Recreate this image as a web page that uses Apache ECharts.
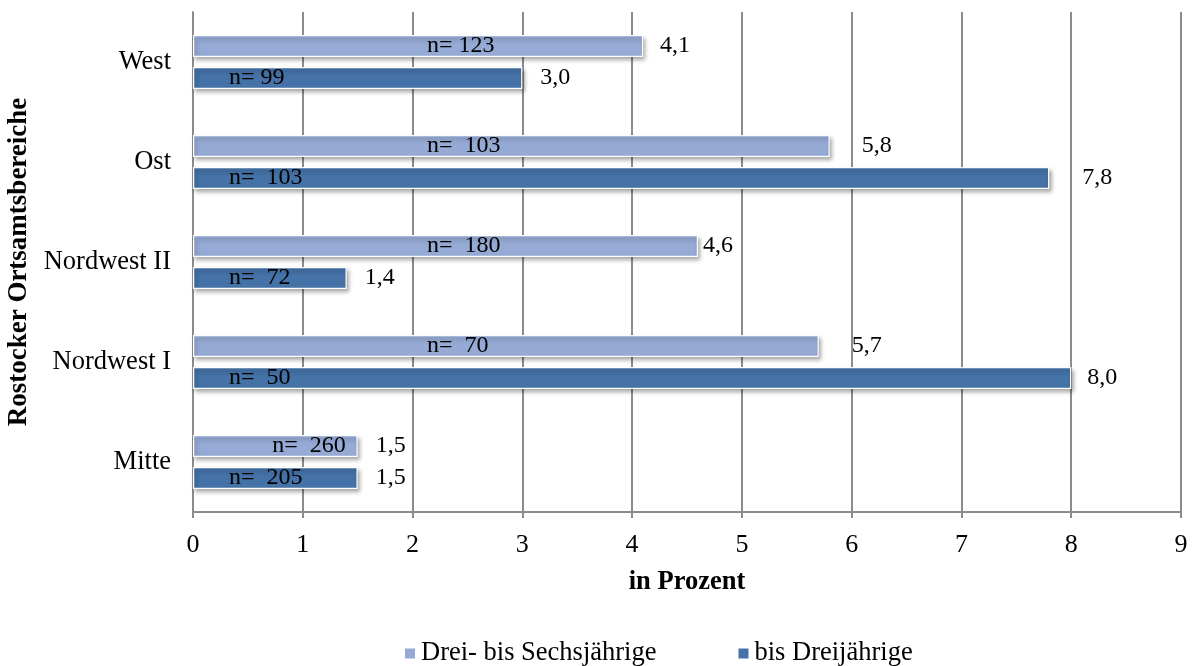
<!DOCTYPE html>
<html>
<head>
<meta charset="utf-8">
<script src="https://cdn.jsdelivr.net/npm/echarts@6/dist/echarts.min.js"></script>
<style>html,body{margin:0;padding:0;background:#fff;}#c{width:1200px;height:666px;}</style>
</head>
<body>
<div id="c"></div>
<script>
// ---- data ----
const categories = ['Mitte', 'Nordwest I', 'Nordwest II', 'Ost', 'West'];
const seriesNames = ['Drei- bis Sechsjährige', 'bis Dreijährige'];
const valuesDreiBisSechs = [1.5, 5.7, 4.6, 5.8, 4.1];
const valuesBisDrei = [1.5, 8.0, 1.4, 7.8, 3.0];
const nDreiBisSechs = ['n=  260', 'n=  70', 'n=  180', 'n=  103', 'n= 123'];
const nBisDrei = ['n=  205', 'n=  50', 'n=  72', 'n=  103', 'n= 99'];
const xTicks = [0, 1, 2, 3, 4, 5, 6, 7, 8, 9];

// ---- styles ----
const FONT = '"Liberation Serif", "Times New Roman", serif';
const LIGHT = '#95AAD4';
const DARK = '#4572A7';
const GRIDC = '#8c8c8c';
const gapLight = [18, 33, 5, 32, 17];
const gapDark = [18, 16, 18, 33, 18];

const chart = echarts.init(document.getElementById('c'), null, {renderer: 'canvas'});

function fmt(v) { return v.toFixed(1).replace('.', ','); }

const barItemStyle = (c) => ({
  color: c, borderColor: '#ffffff', borderWidth: 1.2,
  shadowColor: 'rgba(0,0,0,0.35)', shadowBlur: 4, shadowOffsetX: 2, shadowOffsetY: 3
});

const lightData = valuesDreiBisSechs.map((v, i) => {
  const item = {value: v};
  if (i === 0) item.label = {position: 'insideRight', offset: [-7, 0]};
  return item;
});
const darkData = valuesBisDrei.map(v => ({value: v}));

function valueLabels(vals, gaps, dy) {
  return {
    type: 'custom', silent: true, z: 5, clip: false,
    encode: {x: 0, y: 1},
    data: vals.map((v, i) => [v, i]),
    renderItem: function (params, api) {
      const c = api.coord([api.value(0), api.value(1)]);
      const i = params.dataIndex;
      return {
        type: 'text',
        x: c[0] + gaps[i],
        y: c[1] + dy,
        style: {
          text: fmt(vals[i]),
          fill: '#000',
          font: '24px ' + FONT,
          align: 'left',
          verticalAlign: 'middle'
        }
      };
    },
    tooltip: {show: false}
  };
}

const option = {
  animation: false,
  backgroundColor: '#ffffff',
  textStyle: {fontFamily: FONT},
  grid: {left: 193, right: 19, top: 12, bottom: 154, containLabel: false, outerBoundsMode: 'none'},
  legend: {
    data: seriesNames,
    top: 635, left: 398,
    itemWidth: 12, itemHeight: 12, itemGap: 80,
    icon: 'rect',
    textStyle: {fontFamily: FONT, fontSize: 26.5, color: '#000'}
  },
  xAxis: {
    type: 'value', min: 0, max: 9, interval: 1,
    name: 'in Prozent', nameLocation: 'middle', nameGap: 57,
    nameTextStyle: {fontFamily: FONT, fontSize: 26.5, fontWeight: 'bold', color: '#000'},
    axisLine: {show: true, lineStyle: {color: GRIDC, width: 2}},
    axisTick: {show: true, length: 6, lineStyle: {color: GRIDC, width: 2}},
    axisLabel: {fontFamily: FONT, fontSize: 26, color: '#000', margin: 20,
      formatter: (v) => xTicks.includes(v) ? String(v) : ''},
    splitLine: {show: true, lineStyle: {color: GRIDC, width: 2}}
  },
  yAxis: {
    type: 'category', data: categories,
    name: 'Rostocker Ortsamtsbereiche', nameLocation: 'middle', nameGap: 158, nameRotate: 90,
    nameTextStyle: {fontFamily: FONT, fontSize: 27, fontWeight: 'bold', color: '#000'},
    axisLine: {show: true, lineStyle: {color: GRIDC, width: 2}},
    axisTick: {show: false},
    axisLabel: {fontFamily: FONT, fontSize: 26.5, color: '#000', margin: 22},
    splitLine: {show: false}
  },
  series: [
    {
      type: 'bar', name: seriesNames[0], data: lightData,
      barWidth: 22, barGap: '45%',
      itemStyle: barItemStyle(LIGHT),
      label: {show: true, position: 'insideLeft', offset: [229, 0],
        formatter: (p) => nDreiBisSechs[p.dataIndex], fontFamily: FONT, fontSize: 24, color: '#000'}
    },
    {
      type: 'bar', name: seriesNames[1], data: darkData,
      barWidth: 22, barGap: '45%',
      itemStyle: barItemStyle(DARK),
      label: {show: true, position: 'insideLeft', offset: [31, 0],
        formatter: (p) => nBisDrei[p.dataIndex], fontFamily: FONT, fontSize: 24, color: '#000'}
    },
    valueLabels(valuesDreiBisSechs, gapLight, -16),
    valueLabels(valuesBisDrei, gapDark, 16)
  ]
};
chart.setOption(option);
</script>
</body>
</html>
